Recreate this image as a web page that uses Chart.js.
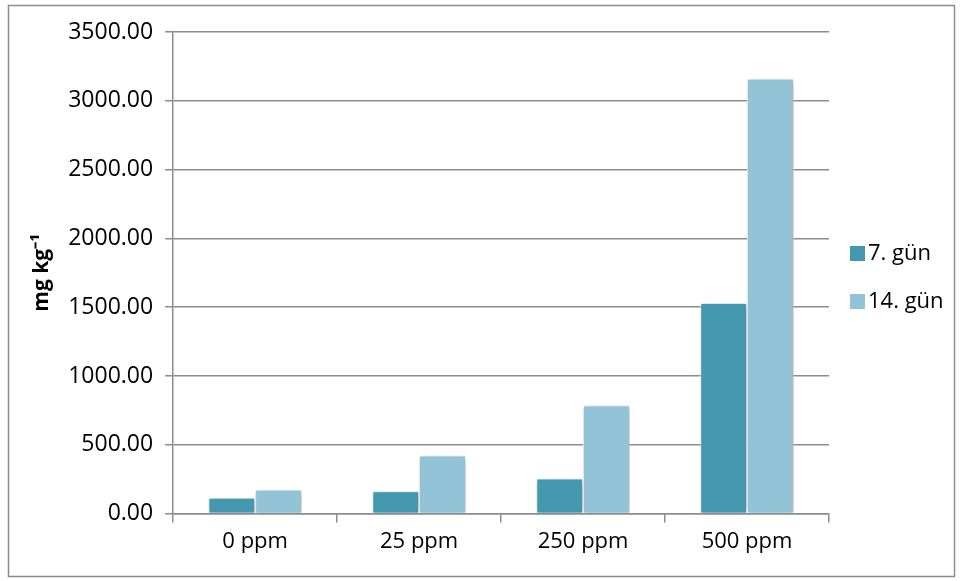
<!DOCTYPE html>
<html><head><meta charset="utf-8">
<script src="https://cdn.jsdelivr.net/npm/chart.js@4.4.0/dist/chart.umd.min.js"></script>
<style>html,body{margin:0;padding:0;background:#fff}#wrap{width:960px;height:581px;position:relative}</style>
</head><body><div id="wrap"><canvas id="c" width="960" height="581"></canvas></div>
<script>
const categories = ["0 ppm", "25 ppm", "250 ppm", "500 ppm"];
const seriesNames = ["7. gün", "14. gün"];
const day7 = [116, 162, 255, 1530];
const day14 = [173, 422, 786, 3160];
const yTicks = [0, 500, 1000, 1500, 2000, 2500, 3000, 3500];
const axisTitle = "mg kg⁻¹";

const colors = ["#4398B0", "#93C3D6"];
const FONT = "'Open Sans', 'Liberation Sans', sans-serif";

const framePlugin = {
  id: 'frame',
  beforeDatasetsDraw(chart) {
    const ctx = chart.ctx;
    ctx.save();
    ctx.shadowColor = 'rgba(0,0,0,0.35)';
    ctx.shadowBlur = 6;
    ctx.shadowOffsetX = 1;
    ctx.shadowOffsetY = 1;
  },
  afterDatasetsDraw(chart) {
    chart.ctx.restore();
  },
  afterDraw(chart) {
    const ctx = chart.ctx;
    ctx.save();
    ctx.strokeStyle = '#8c8c8c';
    ctx.lineWidth = 1.5;
    ctx.strokeRect(8.5, 5.5, 946, 571);
    const items = chart.data.datasets;
    const ys = [254, 302];
    ctx.font = "22px " + FONT;
    ctx.textBaseline = 'middle';
    items.forEach((ds, i) => {
      ctx.fillStyle = ds.backgroundColor;
      ctx.fillRect(850, ys[i] - 8, 15, 15);
      ctx.fillStyle = '#000';
      ctx.fillText(ds.label, 868, ys[i]);
    });
    ctx.restore();
  }
};

new Chart(document.getElementById('c'), {
  type: 'bar',
  data: {
    labels: categories,
    datasets: [
      { label: seriesNames[0], data: day7, backgroundColor: colors[0], borderColor: '#ffffff', borderWidth: 1 },
      { label: seriesNames[1], data: day14, backgroundColor: colors[1], borderColor: '#ffffff', borderWidth: 1 }
    ]
  },
  plugins: [framePlugin],
  options: {
    responsive: false,
    animation: false,
    layout: { padding: { left: 27, right: 131, top: 32, bottom: 20 } },
    plugins: { legend: { display: false }, tooltip: { enabled: false } },
    datasets: { bar: { categoryPercentage: 0.57, barPercentage: 1.0 } },
    scales: {
      x: {
        grid: { offset: true, drawOnChartArea: false, tickLength: 9, color: '#8c8c8c', lineWidth: 1.5 },
        border: { color: '#8c8c8c', width: 1.5 },
        ticks: { color: '#000', font: { family: FONT, size: 22 }, padding: 6 }
      },
      y: {
        min: 0, max: 3500,
        afterBuildTicks(axis) { axis.ticks = yTicks.map(v => ({ value: v })); },
        grid: { color: '#8c8c8c', lineWidth: 1.5, drawTicks: true, tickLength: 8 },
        border: { color: '#8c8c8c', width: 1.5 },
        ticks: { color: '#000', font: { family: FONT, size: 23 }, padding: 12, callback: v => Number(v).toFixed(2) },
        title: { display: true, text: axisTitle, color: '#000', font: { family: FONT, size: 21, weight: 'bold' }, padding: 2 }
      }
    }
  }
});
</script></body></html>
